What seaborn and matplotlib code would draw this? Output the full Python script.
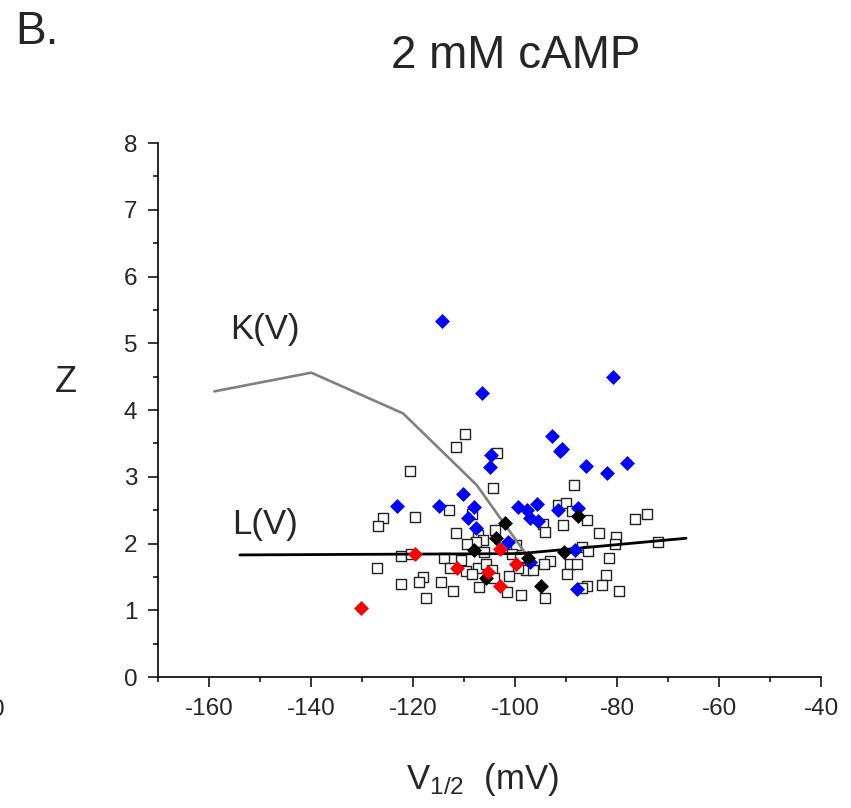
# %%
# import dependencies
import pandas as pd
import seaborn as sns
import matplotlib.pyplot as plt
from matplotlib.ticker import MultipleLocator

# %%
# values: V1/2 (mV) and Z
sqV = [-109.8, -111.7, -103.5, -120.6, -104.4, -112.9, -108.5, -125.9, -126.9, -119.7,
       -111.7, -107.3, -104.0, -106.3, -107.6, -109.5, -99.9, -106.1, -100.7, -99.1,
       -122.5, -120.5, -113.9, -110.7, -127.2, -112.8, -109.7, -107.3, -108.5, -105.7,
       -104.6, -97.8, -99.4, -118.0, -118.8, -122.4, -114.6, -104.2, -101.2, -107.1,
       -112.2, -101.6, -98.9, -117.5, -88.5, -91.7, -90.1, -88.9, -86.0, -94.6,
       -94.1, -90.6, -83.6, -80.3, -80.4, -76.5, -74.2, -72.0, -87.0, -85.8,
       -93.2, -94.4, -81.6, -89.3, -87.8, -96.5, -89.8, -82.2, -86.0, -87.0,
       -82.9, -79.6, -94.2]
sqZ = [3.64, 3.45, 3.36, 3.09, 2.83, 2.50, 2.45, 2.39, 2.26, 2.40,
       2.16, 2.13, 2.20, 2.05, 2.02, 1.99, 1.98, 1.88, 1.84, 1.80,
       1.82, 1.84, 1.79, 1.75, 1.64, 1.64, 1.59, 1.63, 1.55, 1.69,
       1.60, 1.61, 1.64, 1.50, 1.42, 1.39, 1.43, 1.49, 1.51, 1.35,
       1.29, 1.27, 1.23, 1.19, 2.88, 2.58, 2.61, 2.49, 2.35, 2.29,
       2.18, 2.28, 2.16, 2.10, 2.00, 2.37, 2.45, 2.02, 1.95, 1.89,
       1.74, 1.69, 1.78, 1.69, 1.69, 1.61, 1.55, 1.53, 1.37, 1.34,
       1.38, 1.29, 1.18]

blueV = [-114.4, -106.5, -80.9, -92.7, -90.9, -91.2, -86.1, -78.0, -82.0, -104.8,
         -105.0, -110.2, -123.1, -115.0, -108.1, -109.3, -99.4, -97.6, -95.8, -97.1,
         -95.5, -107.7, -101.5, -91.6, -87.6, -88.3, -97.1, -87.9]
blueZ = [5.33, 4.26, 4.49, 3.61, 3.41, 3.38, 3.16, 3.21, 3.06, 3.33,
         3.14, 2.75, 2.57, 2.57, 2.55, 2.39, 2.55, 2.50, 2.60, 2.38,
         2.34, 2.23, 2.02, 2.50, 2.53, 1.90, 1.73, 1.32]

blackV = [-102.0, -103.8, -108.1, -97.5, -105.7, -87.7, -90.5, -95.0]
blackZ = [2.31, 2.09, 1.90, 1.79, 1.48, 2.42, 1.87, 1.37]

redV = [-130.3, -119.6, -111.4, -103.0, -105.4, -99.9, -103.0]
redZ = [1.04, 1.85, 1.64, 1.92, 1.57, 1.69, 1.37]

# model curves
kV = [-159.0, -140.0, -122.0, -107.6, -97.5]
kZ = [4.28, 4.56, 3.95, 2.88, 1.80]
lV = [-154.0, -99.0, -66.5]
lZ = [1.83, 1.85, 2.08]

# %%
sns.set_style('ticks')
plt.rcParams['font.family'] = ['Liberation Sans', 'DejaVu Sans']
plt.rcParams['axes.unicode_minus'] = False

fig = plt.figure(figsize=(8.51, 8.08), dpi=100)
ax = fig.add_axes([0.186, 0.162, 0.779, 0.661])

sqDf = pd.DataFrame({'V': sqV, 'Z': sqZ})
sns.scatterplot(data=sqDf, x='V', y='Z', marker='s', s=48, facecolor='white',
                edgecolor='#222222', linewidth=1.0, ax=ax, zorder=2)

sns.lineplot(x=kV, y=kZ, sort=False, color='#808080', linewidth=1.9, ax=ax, zorder=3)
sns.lineplot(x=lV, y=lZ, sort=False, color='black', linewidth=2.0, ax=ax, zorder=3)

for vv, zz, col in [(blueV, blueZ, '#0000ff'), (blackV, blackZ, 'black'), (redV, redZ, '#ff0000')]:
    sns.scatterplot(x=vv, y=zz, marker='D', s=50, color=col, edgecolor=col,
                    linewidth=0.5, ax=ax, zorder=4)

ax.set_xlim(-170, -40)
ax.set_ylim(0, 8)
ax.xaxis.set_major_locator(MultipleLocator(20))
ax.set_xticks(list(range(-170, -40, 20)), minor=True)
ax.yaxis.set_major_locator(MultipleLocator(1))
ax.yaxis.set_minor_locator(MultipleLocator(0.5))
ax.tick_params(which='major', length=7, width=1.1, labelsize=17.5, pad=8, color='black')
ax.tick_params(which='minor', length=3.5, width=1.1, color='black')
for sp in ['left', 'bottom']:
    ax.spines[sp].set_linewidth(1.2)
    ax.spines[sp].set_color('black')
sns.despine(ax=ax)
ax.set_xlabel('')
ax.set_ylabel('')

ax.text(-149, 5.2, 'K(V)', ha='center', va='center', fontsize=25)
ax.text(-149, 2.28, 'L(V)', ha='center', va='center', fontsize=25)

fig.text(15 / 851, 1 - 32 / 808, 'B.', ha='left', va='center', fontsize=33)
fig.text(516 / 851, 1 - 56 / 808, '2 mM cAMP', ha='center', va='center', fontsize=33)
fig.text(66 / 851, 1 - 383 / 808, 'Z', ha='center', va='center', fontsize=26)
fig.text(482 / 851, 1 - 780 / 808, r'$\mathregular{V_{1/2}}$  (mV)', ha='center', va='center', fontsize=25)
fig.text(-0.003, 1 - 710 / 808, '0', ha='center', va='center', fontsize=17.5)

fig.savefig('out.png', dpi=100)
